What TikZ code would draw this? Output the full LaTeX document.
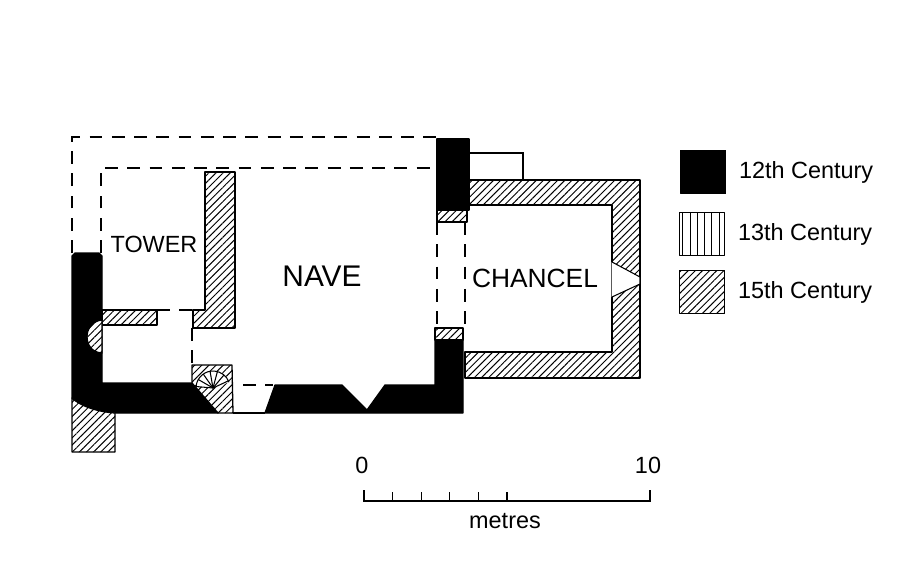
\documentclass[tikz,border=0pt]{standalone}
\usepackage{fontspec}
\setmainfont{Liberation Sans}
\usetikzlibrary{patterns.meta,positioning}

\begin{document}
\begin{tikzpicture}[x=0.03cm,y=-0.03cm,
    wall/.style={line width=1.1pt,line join=round},
    early/.style={wall,draw=black,fill=black},
    middle/.style={wall,draw=black,pattern={Lines[angle=90,distance=6.2pt,line width=0.9pt]}},
    late/.style={wall,draw=black,fill=white,postaction={pattern={Lines[angle=45,distance=4.3pt,line width=0.8pt]}}},
    lost/.style={line width=1.2pt,dash pattern=on 11pt off 8pt},
    thin/.style={line width=0.9pt},
    keybox/.style={minimum width=1.35cm,minimum height=1.3cm,inner sep=0pt,outer sep=0pt},
    keytext/.style={font=\fontsize{20}{24}\selectfont,inner sep=0pt}]
    \useasboundingbox (0,0) rectangle (905,567);

    % lost walls
    \draw[lost] (72,253) -- (72,137) -- (437,137);
    \draw[lost] (101,253) -- (101,168) -- (437,168);
    \draw[lost] (157,310) -- (193,310);
    \draw[lost] (192,328) -- (192,365);
    \draw[lost] (437,222) -- (437,328);
    \draw[lost] (465,222) -- (465,328);
    \draw[lost] (243,385) -- (273,385);
    \draw[thin] (233,413) -- (265,413);

    % 12th century
    \draw[early] (72,256) -- (75,253) -- (99,253) -- (102,256) -- (102,383)
        -- (192,383) -- (218,413) -- (115,413)
        .. controls (98,412) and (80,406) .. (72,398) -- cycle;
    \draw[early] (275,385) -- (342,385) -- (367,410) -- (385,385) -- (435,385)
        -- (435,340) -- (463,340) -- (463,413) -- (265,413) -- cycle;
    \draw[early] (437,139) rectangle (469,210);

    % 15th century
    \draw[late] (469,180) -- (640,180) -- (640,378) -- (465,378) -- (465,352)
        -- (612,352) -- (612,205) -- (469,205) -- cycle;
    \draw[late] (437,210) rectangle (467,222);
    \draw[late] (435,328) rectangle (463,340);
    \draw[late] (205,172) -- (235,172) -- (235,328) -- (193,328) -- (193,310)
        -- (205,310) -- cycle;
    \draw[late] (102,310) rectangle (157,325);
    \draw[late] (72,398) .. controls (80,406) and (98,412) .. (115,413)
        -- (115,452) -- (72,452) -- cycle;
    \draw[late] (102,320) .. controls (82,322) and (82,352) .. (102,353) -- cycle;
    \draw[late] (192,365) -- (232,365) -- (233,413) -- (218,413) -- (192,383) -- cycle;

    % stair
    \fill[white] (213,388) -- ++(185:17) arc[start angle=185,end angle=340,radius=17] -- cycle;
    \foreach \a in {185,210,...,335}
        \draw[thin] (213,388) -- ++(\a:17);
    \draw[thin] (213,388) ++(185:17) arc[start angle=185,end angle=340,radius=17];

    % east window
    \fill[white] (611.5,262) -- (639.3,277) -- (639.3,284) -- (611.5,297) -- cycle;
    \draw[thin] (612,262) -- (640,277) (612,297) -- (640,284);

    % vestry
    \draw[thin] (469,153) -- (523,153) -- (523,180);

    % labels
    \node[font=\fontsize{20}{24}\selectfont] (tower) at (154,244) {TOWER};
    \node[font=\fontsize{25.5}{30}\selectfont] (nave) at (322,276) {NAVE};
    \node[font=\fontsize{22.5}{27}\selectfont] (chancel) at (535,278) {CHANCEL};

    % key
    \node[keybox,early] (k12) at (703,172) {};
    \node[keybox,middle] (k13) at (702,234) {};
    \node[keybox,late] (k15) at (702,292) {};
    \node[keytext,right=0.4cm of k12] (t12) {12th Century};
    \node[keytext,right=0.4cm of k13] (t13) {13th Century};
    \node[keytext,right=0.4cm of k15] (t15) {15th Century};

    % scale
    \draw[thin] (364,490) -- (364,501) -- (650,501) -- (650,490);
    \foreach \k in {1,...,5}
        \draw[thin] (364+28.6*\k,501) -- ++(0,-9);
    \node[keytext] (zero) at (362,465) {0};
    \node[keytext] (ten) at (648,465) {10};
    \node[keytext] (metres) at (505,521) {metres};
\end{tikzpicture}
\end{document}
